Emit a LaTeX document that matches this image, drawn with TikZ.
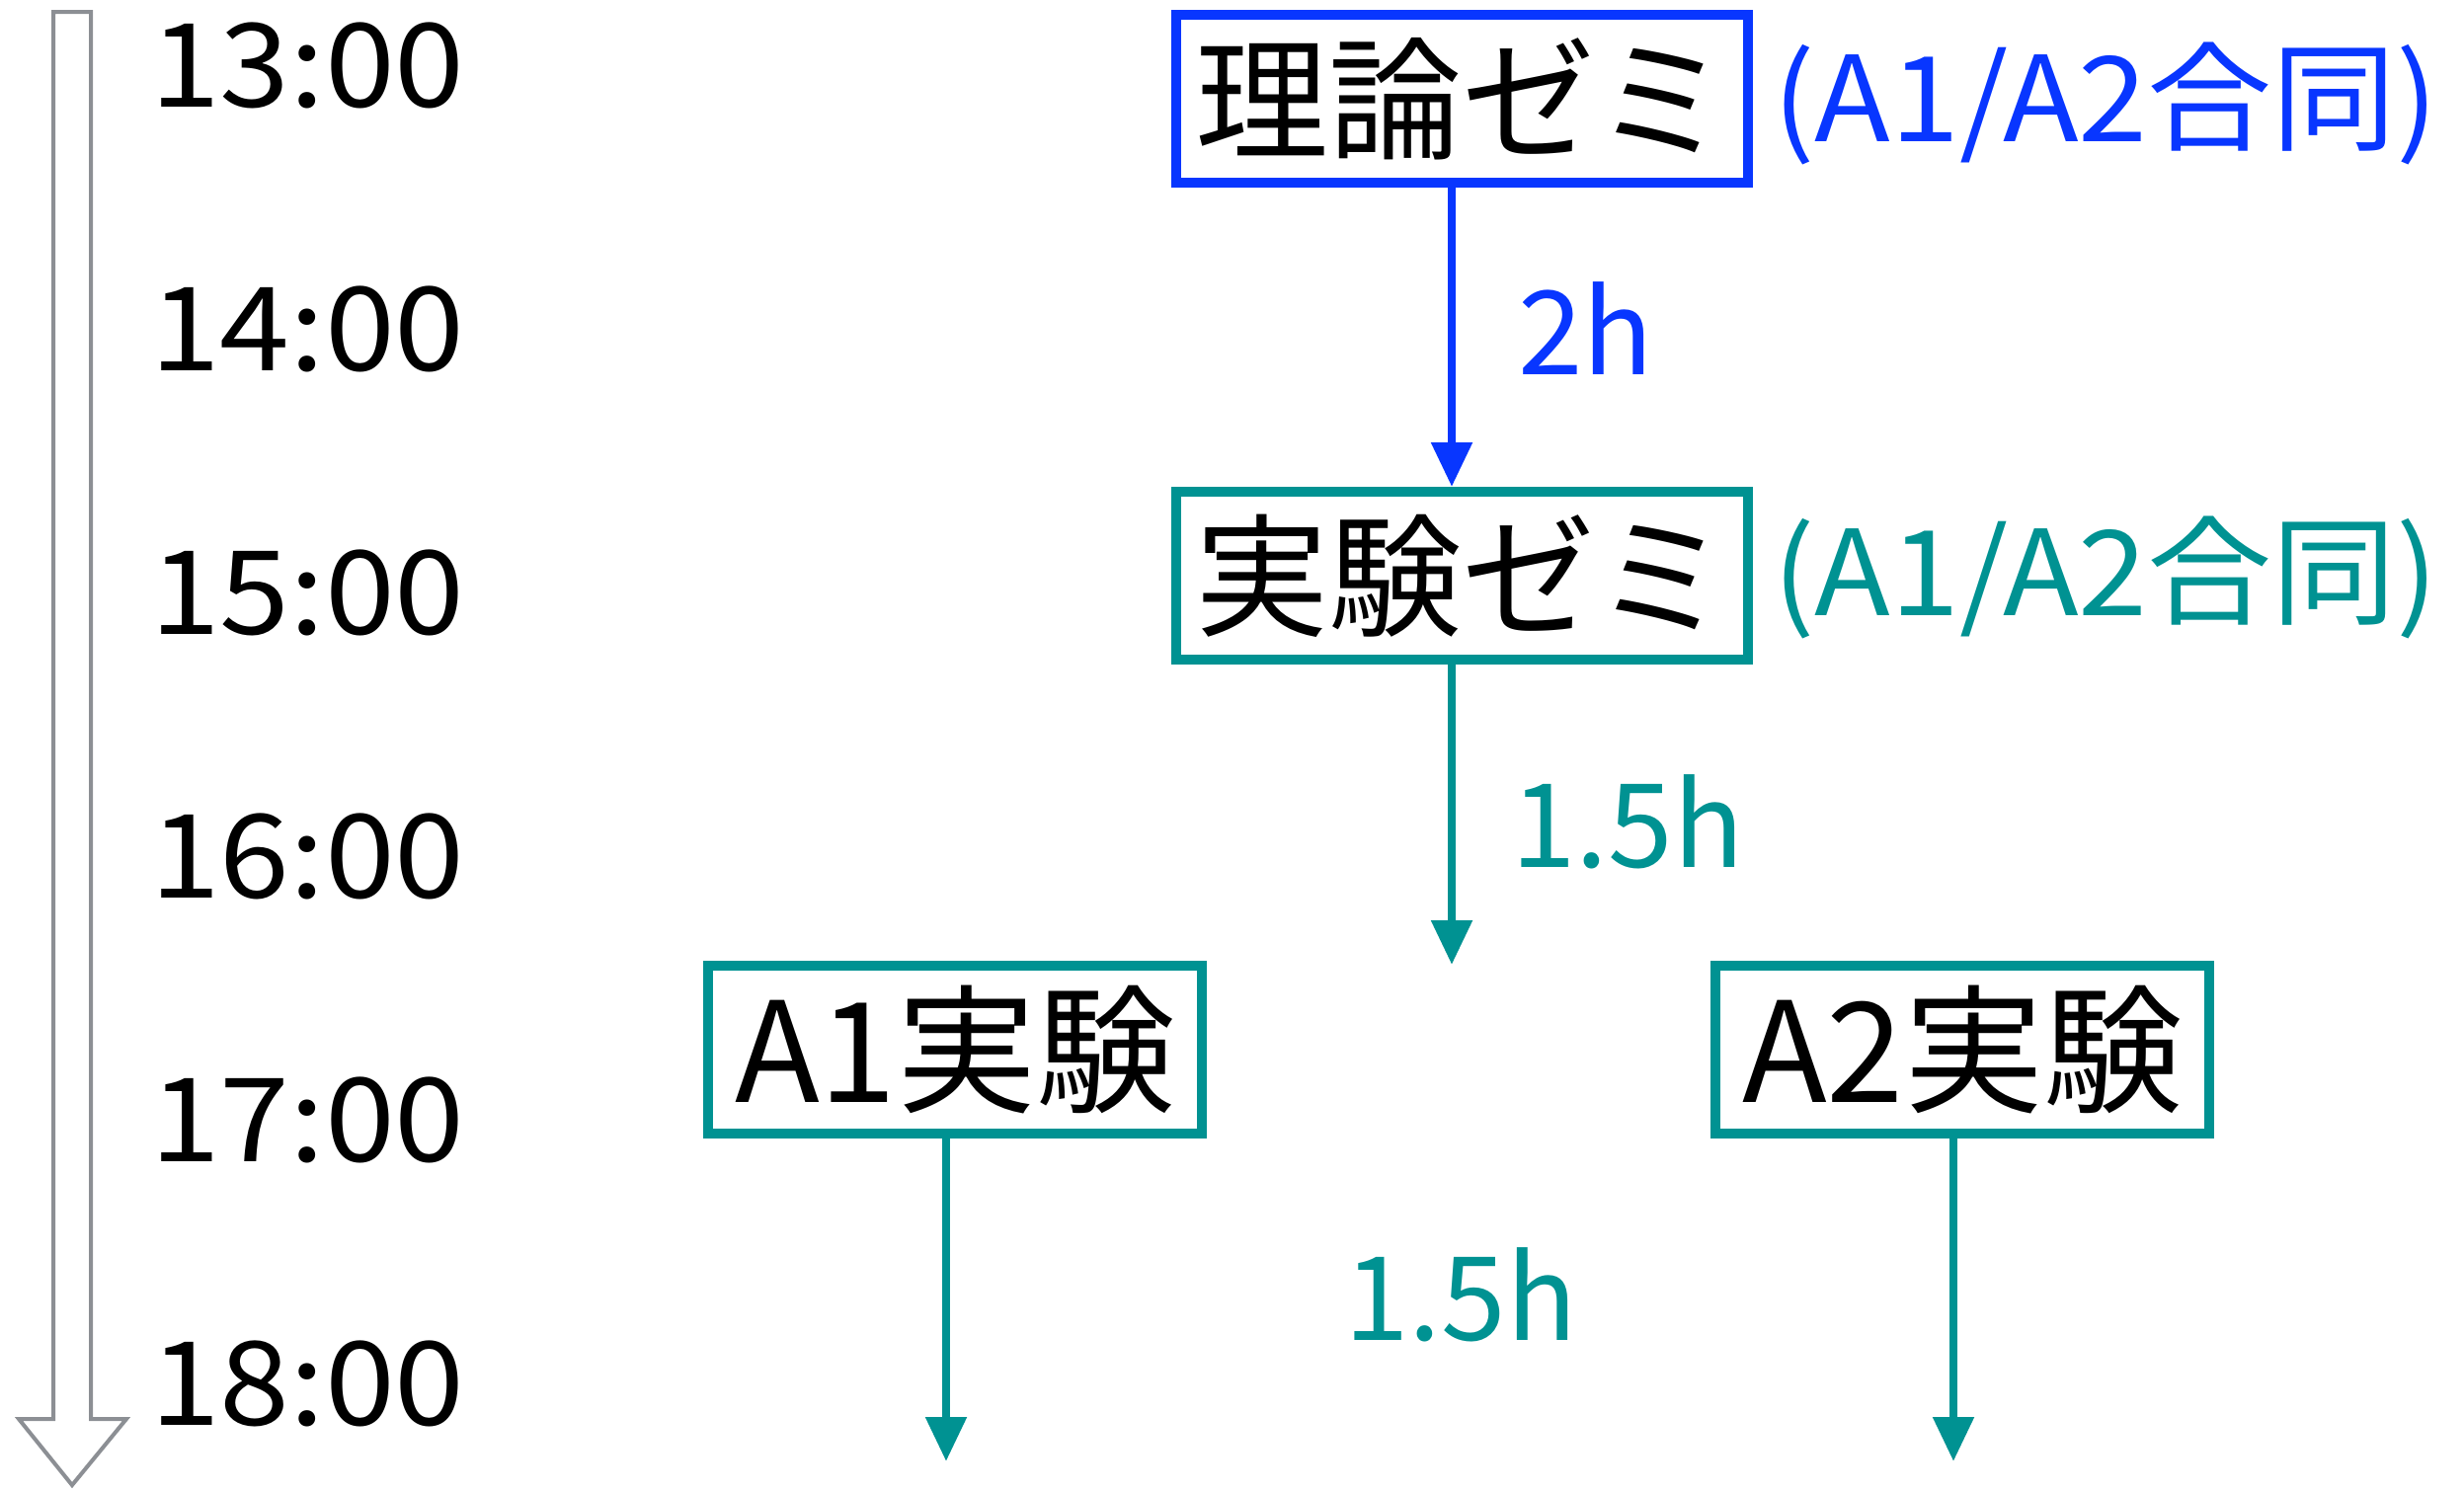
\documentclass[tikz,border=0pt]{standalone}
\usepackage{fontspec}
\setmainfont{Noto Sans CJK JP}
\newfontfamily\timefont[FakeStretch=1.08]{Noto Sans CJK JP}
\newfontfamily\notefont[FakeStretch=1.05]{Noto Sans CJK JP}
\usetikzlibrary{arrows.meta}
\definecolor{zblue}{RGB}{8,54,255}
\definecolor{zteal}{RGB}{0,146,146}
\definecolor{zgray}{RGB}{140,143,148}
\begin{document}
\begin{tikzpicture}[x=1pt,y=-1pt,
  box/.style={draw, line width=10pt, minimum width=579pt, minimum height=170pt, inner sep=0pt, font=\fontsize{135}{135}\selectfont},
  smallbox/.style={box, minimum width=500pt, font=\fontsize{141}{141}\selectfont},
  timelbl/.style={anchor=base west, inner sep=0pt, font=\timefont\fontsize{118}{118}\selectfont},
  durlbl/.style={anchor=base west, inner sep=0pt, font=\fontsize{118}{118}\selectfont},
  note/.style={anchor=base west, inner sep=0pt, font=\notefont\fontsize{120}{120}\selectfont},
  flow/.style={line width=8.5pt, -{Triangle[length=45pt,width=40pt]}}
]
\useasboundingbox (0,0) rectangle (2495,1510);
% timeline arrow
\draw[zgray, line width=4pt] (54,12) -- (92,12) -- (92,1437) -- (128,1437) -- (73,1504) -- (19,1437) -- (54,1437) -- cycle;
% time labels
\node[timelbl] (t13) at (152,108) {13:00};
\node[timelbl] (t14) at (152,375) {14:00};
\node[timelbl] (t15) at (152,642) {15:00};
\node[timelbl] (t16) at (152,909) {16:00};
\node[timelbl] (t17) at (152,1176) {17:00};
\node[timelbl] (t18) at (152,1443) {18:00};
% boxes
\node[box, zblue, text=black] (riron) at (1480,100) {理論ゼミ};
\node[box, zteal, text=black] (jikken) at (1480,583) {実験ゼミ};
\node[smallbox, zteal, text=black] (a1) at (967,1063) {A1実験};
\node[smallbox, zteal, text=black] (a2) at (1987,1063) {A2実験};
% notes
\node[note, text=zblue] (n1) at (1795,143) {(A1/A2合同)};
\node[note, text=zteal] (n2) at (1795,623) {(A1/A2合同)};
% durations
\node[durlbl, text=zblue] (d1) at (1537,379) {2h};
\node[durlbl, text=zteal] (d2) at (1530,878) {1.5h};
\node[durlbl, text=zteal] (d3) at (1361,1357) {1.5h};
% free ends
\coordinate (e0) at (1470,977);
\coordinate (e1) at (958,1480);
\coordinate (e2) at (1978,1480);
% connectors
\draw[flow, zblue] ([xshift=-10pt]riron.south) -- ([xshift=-10pt]jikken.north);
\draw[flow, zteal] ([xshift=-10pt]jikken.south) -- (e0);
\draw[flow, zteal] ([xshift=-9pt]a1.south) -- (e1);
\draw[flow, zteal] ([xshift=-9pt]a2.south) -- (e2);
\end{tikzpicture}
\end{document}
